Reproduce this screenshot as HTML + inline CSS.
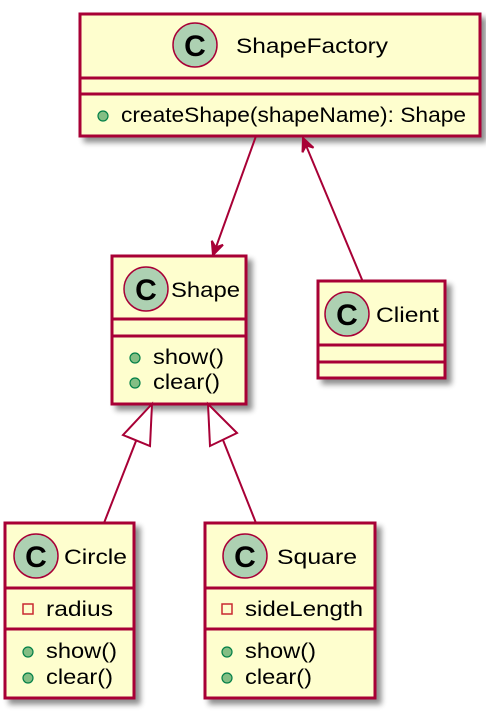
<!DOCTYPE html>
<html><head><meta charset="utf-8"><style>
html,body{margin:0;padding:0;background:#fff;}
svg text{font-family:"Liberation Sans",sans-serif;fill:#000;}
</style></head><body>
<svg width="486" height="714" viewBox="0 0 486 714" xmlns="http://www.w3.org/2000/svg">
<defs>
<filter id="sh" x="-10%" y="-10%" width="130%" height="130%">
<feGaussianBlur in="SourceAlpha" stdDeviation="3"/>
<feOffset dx="5" dy="5" result="b"/>
<feComponentTransfer><feFuncA type="linear" slope="0.45"/></feComponentTransfer>
<feMerge><feMergeNode/><feMergeNode in="SourceGraphic"/></feMerge>
</filter>
</defs>
<g stroke="#A80036" stroke-width="3" fill="#FEFECE">
<rect x="80" y="14" width="400" height="122" filter="url(#sh)"/>
<rect x="112" y="256" width="134" height="148" filter="url(#sh)"/>
<rect x="318" y="281" width="127" height="97" filter="url(#sh)"/>
<rect x="5" y="523" width="129" height="175" filter="url(#sh)"/>
<rect x="205" y="523" width="170" height="175" filter="url(#sh)"/>
</g>
<g stroke="#A80036" stroke-width="3">
<line x1="80" y1="78" x2="480" y2="78"/><line x1="80" y1="94" x2="480" y2="94"/>
<line x1="112" y1="319" x2="246" y2="319"/><line x1="112" y1="336" x2="246" y2="336"/>
<line x1="318" y1="345" x2="445" y2="345"/><line x1="318" y1="362" x2="445" y2="362"/>
<line x1="5" y1="588" x2="134" y2="588"/><line x1="5" y1="629" x2="134" y2="629"/>
<line x1="205" y1="588" x2="375" y2="588"/><line x1="205" y1="629" x2="375" y2="629"/>
</g>
<g fill="#ADD1B2" stroke="#A80036" stroke-width="1.5">
<circle cx="195" cy="45" r="22"/>
<circle cx="146" cy="289" r="22"/>
<circle cx="347" cy="314" r="22"/>
<circle cx="36" cy="556" r="22"/>
<circle cx="245" cy="556" r="22"/>
</g>
<g font-size="30" font-weight="bold" text-anchor="middle">
<text x="195" y="56">C</text><text x="146" y="300">C</text><text x="347" y="325">C</text>
<text x="36" y="567">C</text><text x="245" y="567">C</text>
</g>
<g font-size="21" lengthAdjust="spacingAndGlyphs">
<text x="236" y="53" textLength="152" lengthAdjust="spacingAndGlyphs">ShapeFactory</text>
<text x="171" y="297" textLength="69" lengthAdjust="spacingAndGlyphs">Shape</text>
<text x="376" y="322" textLength="63" lengthAdjust="spacingAndGlyphs">Client</text>
<text x="64" y="564" textLength="63" lengthAdjust="spacingAndGlyphs">Circle</text>
<text x="277" y="564" textLength="80" lengthAdjust="spacingAndGlyphs">Square</text>
<text x="121" y="122" textLength="345" lengthAdjust="spacingAndGlyphs">createShape(shapeName): Shape</text>
<text x="153" y="364" textLength="71" lengthAdjust="spacingAndGlyphs">show()</text>
<text x="153" y="389" textLength="67" lengthAdjust="spacingAndGlyphs">clear()</text>
<text x="46" y="616" textLength="67" lengthAdjust="spacingAndGlyphs">radius</text>
<text x="46" y="658" textLength="71" lengthAdjust="spacingAndGlyphs">show()</text>
<text x="46" y="684" textLength="67" lengthAdjust="spacingAndGlyphs">clear()</text>
<text x="245" y="616" textLength="118" lengthAdjust="spacingAndGlyphs">sideLength</text>
<text x="245" y="658" textLength="71" lengthAdjust="spacingAndGlyphs">show()</text>
<text x="245" y="684" textLength="67" lengthAdjust="spacingAndGlyphs">clear()</text>
</g>
<g fill="#84BE84" stroke="#038048" stroke-width="1.2">
<circle cx="103" cy="116" r="5"/>
<circle cx="135" cy="358" r="5"/><circle cx="135" cy="383" r="5"/>
<circle cx="28" cy="652" r="5"/><circle cx="28" cy="678" r="5"/>
<circle cx="227" cy="652" r="5"/><circle cx="227" cy="678" r="5"/>
</g>
<g fill="none" stroke="#C82930" stroke-width="1.5">
<rect x="23" y="604" width="10" height="10"/>
<rect x="222" y="604" width="10" height="10"/>
</g>
<g stroke="#A80036" stroke-width="2" fill="none">
<line x1="256" y1="136" x2="215" y2="250"/>
<line x1="363" y1="282" x2="305" y2="143"/>
<line x1="136" y1="441" x2="104" y2="523"/>
<line x1="223" y1="440" x2="256" y2="523"/>
</g>
<g stroke="#A80036" stroke-width="2" fill="#A80036">
<polygon points="213,255 223,244.8 215.7,247.5 211.8,240.8"/>
<polygon points="303,138 313.5,147.7 306.1,145.4 302.5,152.3"/>
</g>
<g stroke="#A80036" stroke-width="2" fill="#fff">
<polygon points="152,404 123,435 150,446"/>
<polygon points="208,404 210,446 237,433"/>
</g>
</svg>
</body></html>
